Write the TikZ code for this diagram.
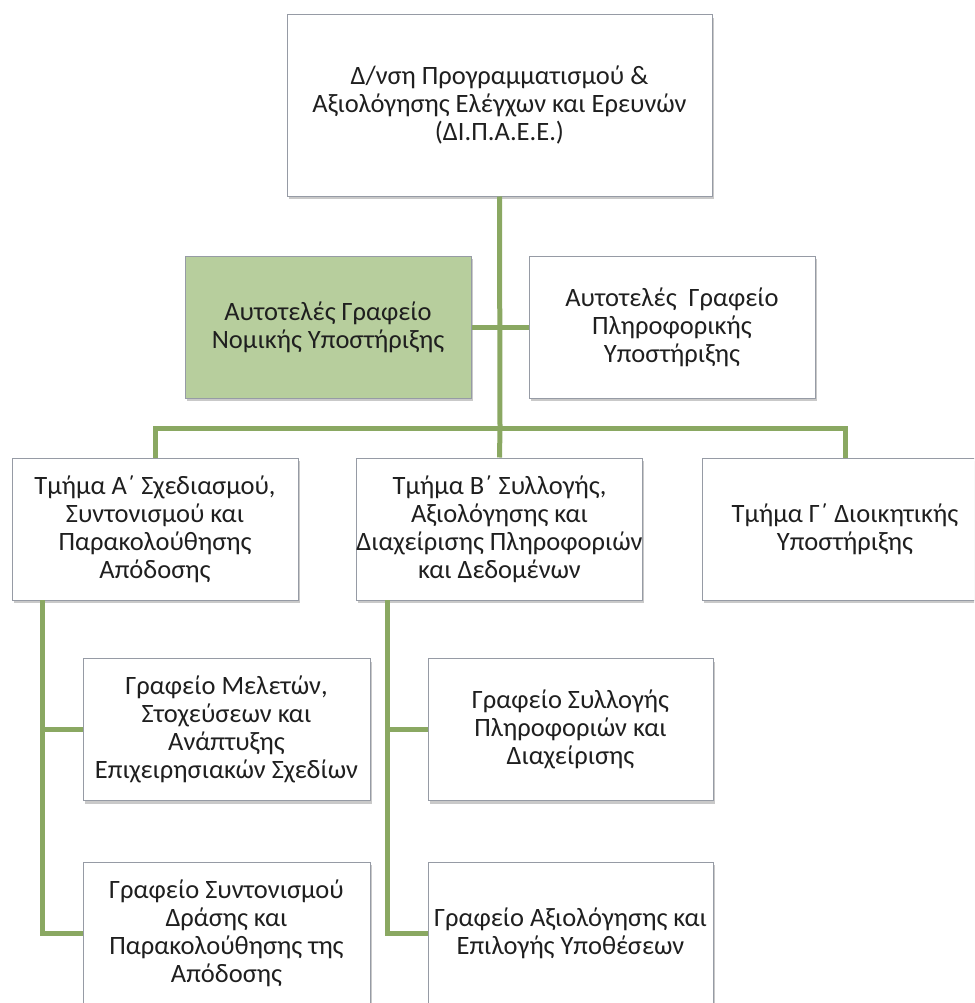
\documentclass[tikz,border=0pt]{standalone}
\usepackage{fontspec}
\setmainfont{Carlito}
\usetikzlibrary{shadows}
\definecolor{orgG}{RGB}{138,168,98}
\definecolor{orgF}{RGB}{183,206,157}
\definecolor{orgE}{RGB}{150,155,165}

\begin{document}
\begin{tikzpicture}[x=1pt,y=-1pt,
  unit/.style={draw=orgE,line width=1pt,fill=white,minimum width=286pt,minimum height=142pt,
    align=center,inner sep=0pt,text=black!88,font=\fontsize{26.5}{28}\selectfont,
    drop shadow={shadow xshift=1.5pt,shadow yshift=-3pt,fill=black!70,opacity=0.3}},
  link/.style={orgG,line width=5pt}]
\useasboundingbox (0,0) rectangle (974,1003);
\clip (0,0) rectangle (974,1003);
% ---- head and the two independent offices
\node[unit,minimum width=425pt,minimum height=181pt] (dir) at (499.5,105.5)
  {Δ/νση Προγραμματισμού \&\\Αξιολόγησης Ελέγχων και Ερευνών\\(ΔΙ.Π.Α.Ε.Ε.)};
\node[unit,fill=orgF] (nomiki) at (328,327) {Αυτοτελές Γραφείο\\Νομικής Υποστήριξης};
\node[unit] (plir) at (672,327) {Αυτοτελές~ Γραφείο\\Πληροφορικής\\Υποστήριξης};
% ---- departments
\node[unit] (tmA) at (155,529) {Τμήμα Α΄ Σχεδιασμού,\\Συντονισμού και\\Παρακολούθησης\\Απόδοσης};
\node[unit] (tmB) at (499.5,529) {Τμήμα Β΄ Συλλογής,\\Αξιολόγησης και\\Διαχείρισης Πληροφοριών\\και Δεδομένων};
\node[unit] (tmG) at (845,529) {Τμήμα Γ΄ Διοικητικής\\Υποστήριξης};
% ---- offices of A and B
\node[unit,minimum width=287pt] (grMel) at (226.5,729.5) {Γραφείο Μελετών,\\Στοχεύσεων και\\Ανάπτυξης\\Επιχειρησιακών Σχεδίων};
\node[unit,minimum width=287pt] (grSyn) at (226.5,933) {Γραφείο Συντονισμού\\Δράσης και\\Παρακολούθησης της\\Απόδοσης};
\node[unit,minimum width=285pt] (grSyl) at (570.5,729.5) {Γραφείο Συλλογής\\Πληροφοριών και\\Διαχείρισης};
\node[unit,minimum width=285pt] (grAx) at (570.5,933) {Γραφείο Αξιολόγησης και\\Επιλογής Υποθέσεων};
% ---- lines
\coordinate (bus) at (500,428);
\coordinate (spA) at (42,600);
\coordinate (spB) at (387,600);
\draw[link] (dir.south) -- (bus);
\draw[link] (nomiki.east) -- (plir.west);
\draw[link] (tmA.north) -- (tmA.north |- bus) -- (tmG.north |- bus) -- (tmG.north);
\draw[link] (bus) -- (tmB.north);
\draw[link] (spA) |- (grSyn.west);
\draw[link] (spA |- grMel.west) -- (grMel.west);
\draw[link] (spB) |- (grAx.west);
\draw[link] (spB |- grSyl.west) -- (grSyl.west);
\end{tikzpicture}
\end{document}
